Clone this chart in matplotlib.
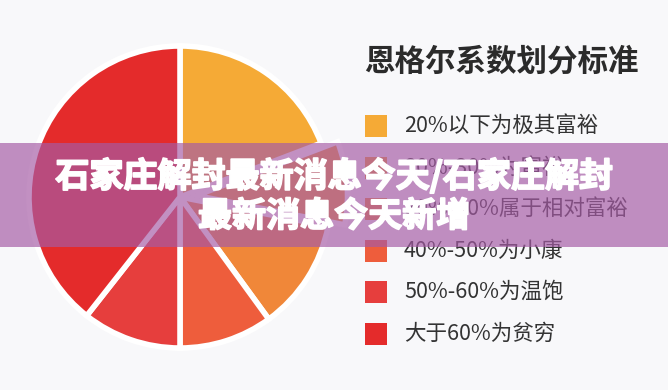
import matplotlib
matplotlib.use("Agg")
import matplotlib.pyplot as plt
from matplotlib.patches import Rectangle
import matplotlib.patheffects as pe

plt.rcParams['font.family'] = ['Noto Sans CJK SC', 'DejaVu Sans']

# ---- data ----
legend_title = "恩格尔系数划分标准"
labels = ["20%以下为极其富裕", "20%-30%为富裕", "30%-40%属于相对富裕",
          "40%-50%为小康", "50%-60%为温饱", "大于60%为贫穷"]
shares = [19.2, 8.9, 11.9, 10.0, 10.6, 39.4]
colors = ["#F5AA36", "#F39A33", "#F08739", "#EE5D3C", "#E63E3D", "#E42B2B"]
explode = [0.0, 0.11, 0.0, 0.0, 0.0, 0.0]
banner_lines = ["石家庄解封最新消息今天/石家庄解封", "最新消息今天新增"]

W, H = 668, 390
fig = plt.figure(figsize=(W / 100, H / 100), dpi=100)
fig.patch.set_facecolor("#F8F8FA")

# pie
cx, cy, r = 180, 197, 151
ax = fig.add_axes([(cx - r) / W, (H - cy - r) / H, 2 * r / W, 2 * r / H])
wedges, _ = ax.pie(shares, colors=colors, startangle=90, counterclock=False,
                   explode=explode,
                   wedgeprops=dict(edgecolor="white", linewidth=4))
for w in wedges:
    w.set_clip_on(False)
ax.set_xlim(-1, 1)
ax.set_ylim(-1, 1)
ax.set_axis_off()

# legend title
fig.text(364 / W, 1 - 62 / H, legend_title, fontsize=22, fontweight="bold",
         color="#2B2B2B", ha="left", va="center")

# legend entries
y0, dy = 126, 41.5
sq = 22
for i, (lab, col) in enumerate(zip(labels, colors)):
    yc = y0 + i * dy
    fig.add_artist(Rectangle((365 / W, (H - yc - sq / 2) / H), sq / W, sq / H,
                             transform=fig.transFigure, facecolor=col,
                             edgecolor="none"))
    fig.text(404 / W, 1 - yc / H, lab, fontsize=15.5, color="#333333",
             ha="left", va="center")

# banner overlay
fig.add_artist(Rectangle((0, (H - 247) / H), 1, 104 / H,
                         transform=fig.transFigure,
                         facecolor=(165 / 255, 91 / 255, 165 / 255),
                         alpha=0.68, edgecolor="none", zorder=10))
effects = [pe.withStroke(linewidth=1.3, foreground="white")]
fig.text(0.5, 1 - 176 / H, banner_lines[0], fontsize=24.5, fontweight="heavy",
         color="white", ha="center", va="center", zorder=11,
         path_effects=effects)
fig.text(0.5, 1 - 216 / H, banner_lines[1], fontsize=24.5, fontweight="heavy",
         color="white", ha="center", va="center", zorder=11,
         path_effects=effects)

fig.savefig("out.png", dpi=100, facecolor=fig.get_facecolor())
